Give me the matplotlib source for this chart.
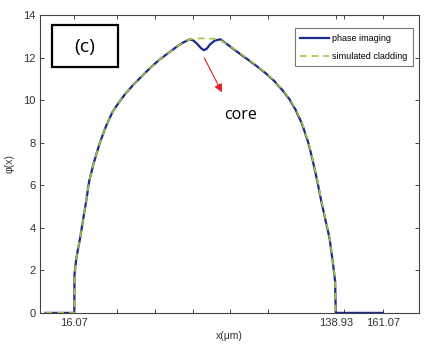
import matplotlib
matplotlib.use("Agg")
import matplotlib.pyplot as plt
from matplotlib.patches import Rectangle

# phase profile (x in um, phi in rad)
x_phase = [2.5, 16.0, 16.07, 17.0, 18.7, 20.0, 21.5, 23.0, 25.0, 28.0, 31.0, 34.0,
           37.0, 40.0, 44.0, 48.0, 52.0, 56.0, 60.0, 64.0, 67.0, 70.3, 72.0, 73.7,
           75.5, 76.9, 78.3, 79.6, 82.0, 84.6, 88.0, 92.6, 98.8, 102.0, 105.8, 110.0,
           114.0, 117.1, 120.0, 123.0, 126.0, 128.0, 130.0, 132.0, 134.0, 136.0, 137.5,
           138.6, 138.93, 161.07]
y_phase = [0.0, 0.0, 1.8, 2.6, 3.5, 4.3, 5.2, 6.2, 7.0, 8.0, 8.8, 9.45,
           9.9, 10.3, 10.75, 11.15, 11.55, 11.9, 12.2, 12.5, 12.7, 12.86, 12.8, 12.65,
           12.45, 12.35, 12.42, 12.6, 12.8, 12.86, 12.62, 12.27, 11.82, 11.58, 11.28, 10.9,
           10.45, 10.05, 9.55, 8.9, 8.0, 7.2, 6.3, 5.3, 4.4, 3.5, 2.4,
           1.5, 0.0, 0.0]

x_clad = [2.5, 16.0, 16.07, 17.0, 18.7, 20.0, 21.5, 23.0, 25.0, 28.0, 31.0, 34.0,
          37.0, 40.0, 44.0, 48.0, 52.0, 56.0, 60.0, 64.0, 67.0, 70.3, 74.0, 78.0,
          82.0, 85.0, 88.0, 92.6, 98.8, 102.0, 105.8, 110.0, 114.0, 117.1, 120.0, 123.0,
          126.0, 128.0, 130.0, 132.0, 134.0, 136.0, 137.5, 138.6, 138.93]
y_clad = [0.0, 0.0, 1.8, 2.6, 3.5, 4.3, 5.2, 6.2, 7.0, 8.0, 8.8, 9.45,
          9.9, 10.3, 10.75, 11.15, 11.55, 11.9, 12.2, 12.5, 12.7, 12.86, 12.9, 12.9,
          12.88, 12.8, 12.62, 12.3, 11.85, 11.6, 11.3, 10.92, 10.48, 10.08, 9.6, 8.95,
          8.05, 7.25, 6.35, 5.35, 4.45, 3.55, 2.45, 1.5, 0.0]

xtick_pos = [16.07, 36.0, 53.8, 71.6, 89.4, 107.2, 138.93, 142.8, 161.07]
xtick_lab = ['16.07', '', '', '', '', '', '138.93', '', '161.07']
ytick_pos = [0, 2, 4, 6, 8, 10, 12, 14]

fig = plt.figure(figsize=(4.24, 3.5), dpi=100)
ax = fig.add_axes([0.095, 0.106, 0.893, 0.851])

ax.plot(x_phase, y_phase, color='#1c2a8a', lw=1.6, label='phase imaging', zorder=3)
ax.plot(x_clad, y_clad, color='#a3c43c', lw=1.2, ls=(0, (4, 3)),
        label='simulated cladding', zorder=4)

ax.set_xlim(0, 178)
ax.set_ylim(0, 14)
ax.set_xticks(xtick_pos)
ax.set_xticklabels(xtick_lab)
ax.set_yticks(ytick_pos)

for s in ax.spines.values():
    s.set_color('#444444')
    s.set_linewidth(0.8)
ax.tick_params(direction='in', length=3, width=0.7, colors='#444444',
               labelsize=8, labelcolor='#333333', top=True, right=True)
for lab in ax.get_xticklabels() + ax.get_yticklabels():
    lab.set_family('Liberation Sans')

ax.set_xlabel('x(\u03bcm)', fontsize=7.5, family='Liberation Sans', color='#333333',
              labelpad=2)
ax.set_ylabel('\u03c6(x)', fontsize=7.5, family='Liberation Sans', color='#333333',
              labelpad=6)

leg = ax.legend(loc='upper right', fontsize=6.5, frameon=True, fancybox=False,
                edgecolor='#555555', handlelength=3.2, handletextpad=0.3,
                borderpad=0.6, labelspacing=1.0, bbox_to_anchor=(0.995, 0.97),
                prop={'family': 'Liberation Sans', 'size': 6.5})
leg.get_frame().set_linewidth(0.8)

# (c) label box
ax.add_patch(Rectangle((0.032, 0.825), 0.172, 0.14, transform=ax.transAxes,
                       fill=False, lw=1.6, edgecolor='black', zorder=5))
ax.text(0.118, 0.893, '(c)', transform=ax.transAxes, ha='center', va='center',
        fontsize=14, family='Open Sans')

# core arrow
ax.annotate('', xy=(86.0, 10.25), xytext=(76.5, 12.1),
            arrowprops=dict(arrowstyle='-|>', color='#e02020', lw=0.8,
                            mutation_scale=12))
ax.text(94.0, 9.3, 'core', ha='center', va='center', fontsize=11.5,
        family='Open Sans')

fig.savefig('out.png', dpi=100)
